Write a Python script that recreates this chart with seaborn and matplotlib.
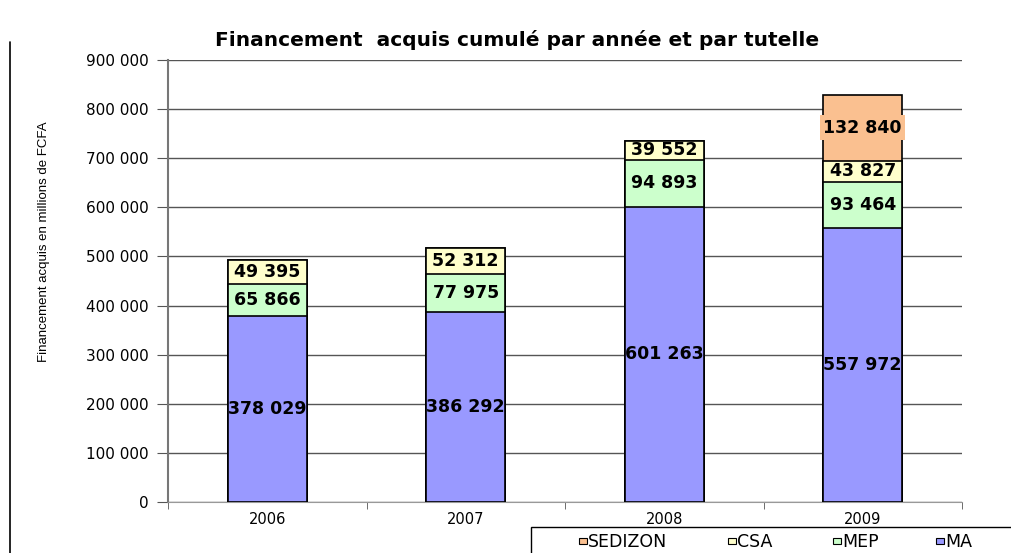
import numpy as np
import pandas as pd
import matplotlib
matplotlib.use("Agg")
import matplotlib.pyplot as plt
from matplotlib.lines import Line2D
from matplotlib.patches import Rectangle
import seaborn as sns

# Données
annees = ["2006", "2007", "2008", "2009"]
ma = [378029, 386292, 601263, 557972]
mep = [65866, 77975, 94893, 93464]
csa = [49395, 52312, 39552, 43827]
sedizon = [0, 0, 0, 132840]

series = ["MA", "MEP", "CSA", "SEDIZON"]
couleurs = {"MA": "#9999FF", "MEP": "#CCFFCC", "CSA": "#FFFFCC", "SEDIZON": "#FAC090"}

df = pd.DataFrame({"annee": annees, "MA": ma, "MEP": mep, "CSA": csa, "SEDIZON": sedizon})
cumul = df[series].cumsum(axis=1)

sns.set_style("white")
plt.rcParams["font.family"] = ["DejaVu Sans"]
plt.rcParams.update({"text.color": "black", "axes.labelcolor": "black",
                     "xtick.color": "black", "ytick.color": "black"})

W, H = 1011, 553
fig = plt.figure(figsize=(W / 100, H / 100), dpi=100)
ax = fig.add_axes([168 / W, 51 / H, 794 / W, 442 / H])

# barres empilées : on dessine les cumuls du haut vers le bas
for s in reversed(series):
    tmp = pd.DataFrame({"annee": annees, "val": cumul[s]})
    sns.barplot(data=tmp, x="annee", y="val", color=couleurs[s], width=0.4,
                edgecolor="black", linewidth=1.2, saturation=1, ax=ax, zorder=3)

def fmt(v):
    return f"{v:,}".replace(",", " ")

# étiquettes de valeurs
for i in range(len(annees)):
    bas = 0
    for s in series:
        v = df.loc[i, s]
        if v > 0:
            kw = dict(ha="center", va="center", fontsize=12.5, fontweight="bold", zorder=5)
            if s == "SEDIZON":
                kw["bbox"] = dict(boxstyle="square,pad=0.2", fc=couleurs[s], ec="none")
            ax.text(i, bas + v / 2, fmt(v), **kw)
        bas += v

ax.set_ylim(0, 900000)
ax.set_xlim(-0.5, 3.5)
ax.set_yticks(np.arange(0, 900001, 100000))
ax.set_yticklabels([fmt(v) for v in range(0, 900001, 100000)], fontsize=11)
ax.yaxis.grid(True, color="#555555", linewidth=1, zorder=0)
ax.set_axisbelow(True)
ax.tick_params(axis="y", left=True, length=8, color="#555555", pad=6)
ax.tick_params(axis="x", labelsize=10.5, pad=4, bottom=False)
ax.set_xticks([-0.5, 0.5, 1.5, 2.5, 3.5], minor=True)
ax.tick_params(axis="x", which="minor", bottom=True, length=5, color="#555555")
for sp in ["top", "right"]:
    ax.spines[sp].set_visible(False)
ax.spines["left"].set_color("#777777")
ax.spines["left"].set_linewidth(1.5)
ax.spines["bottom"].set_color("#999999")
ax.set_xlabel("")
ax.set_ylabel("Financement acquis en millions de FCFA", fontsize=9.5,
              family=["Liberation Sans Narrow", "Liberation Sans"])
ax.yaxis.set_label_coords(-0.149, 0.588)

fig.text(517 / W, 1 - 40 / H, "Financement  acquis cumulé par année et par tutelle",
         ha="center", va="center", fontsize=14.5, fontweight="bold")

# légende (cadre en bas à droite)
fig.add_artist(Rectangle((531 / W, -0.02), 0.5, (H - 527) / H + 0.02,
                         transform=fig.transFigure, fc="white", ec="black", lw=1, zorder=0))
legende = [("SEDIZON", 579), ("CSA", 728), ("MEP", 833), ("MA", 936)]
for nom, x in legende:
    fig.add_artist(Rectangle((x / W, 1 - 544 / H), 8 / W, 6 / H, transform=fig.transFigure,
                             fc=couleurs[nom], ec="black", lw=0.8))
    fig.text((x + 9) / W, 1 - 542 / H, nom, ha="left", va="center", fontsize=12.5)

fig.add_artist(Line2D([10 / W, 10 / W], [0, 1 - 42 / H], color="black", linewidth=1.2))

fig.savefig("out.png", dpi=100)
